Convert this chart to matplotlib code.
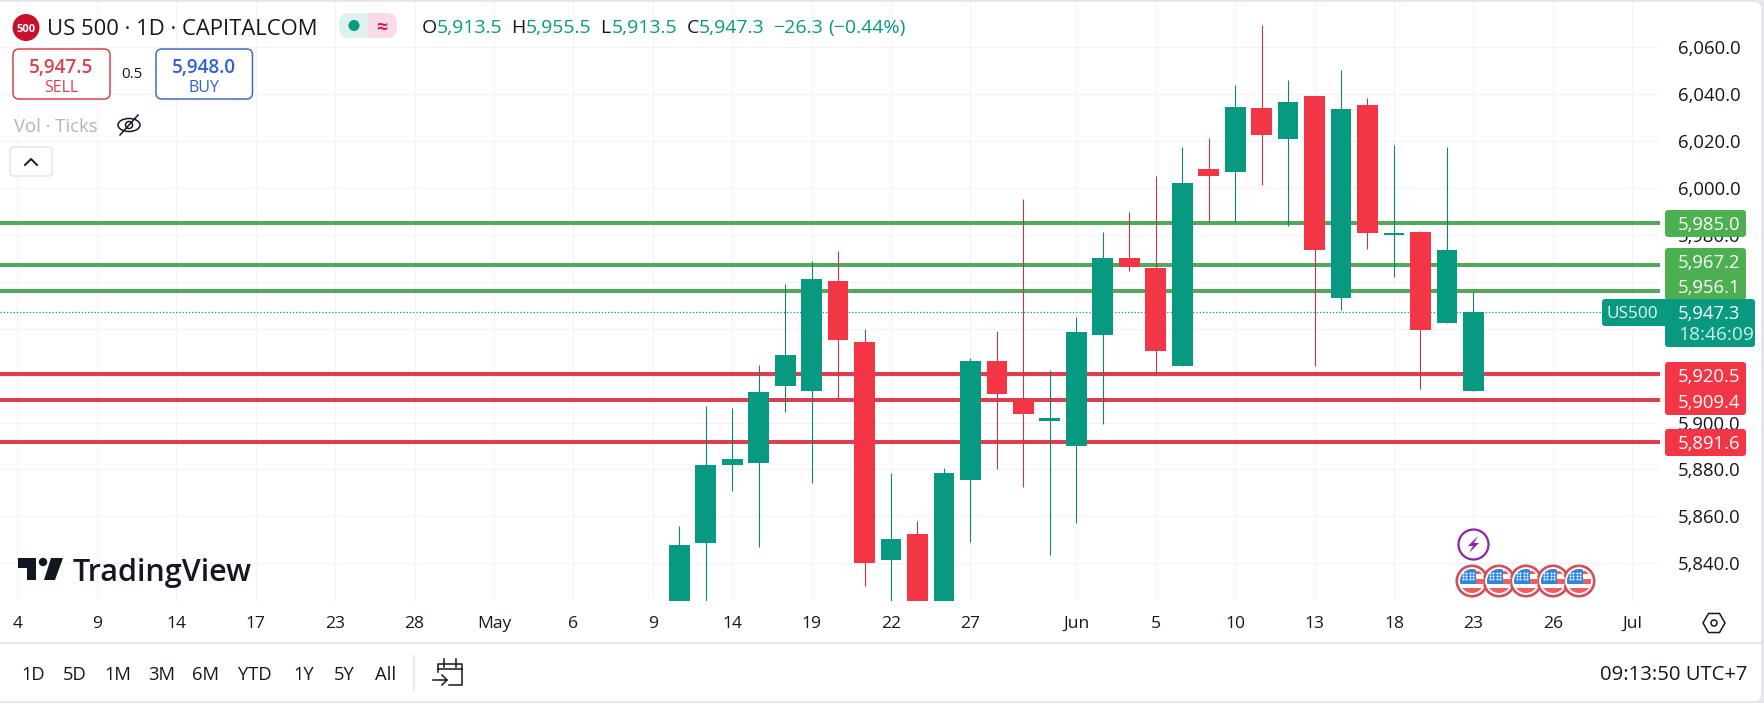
import numpy as np
import matplotlib
matplotlib.use("Agg")
import matplotlib.pyplot as plt
from matplotlib.patches import FancyBboxPatch, Circle, Rectangle, Polygon, RegularPolygon, Ellipse

plt.rcParams['font.family'] = ['Open Sans', 'DejaVu Sans']

# ---------- data ----------
opens = [5820.0, 5848.7, 5882.0, 5882.9, 5915.7, 5913.6, 5960.3, 5934.3, 5841.5, 5852.5, 5820.0,
         5875.6, 5926.2, 5909.6, 5900.8, 5890.1, 5937.4, 5970.1, 5965.9, 5924.2, 6008.1,
         6007.0, 6034.1, 6021.0, 6039.2, 5953.2, 6035.4, 5980.0, 5981.2, 5942.6, 5913.5]
highs = [5855.9, 5907.2, 5906.1, 5924.5, 5959.1, 5968.9, 5973.3, 5939.7, 5878.3, 5858.1, 5880.5,
         5927.6, 5939.1, 5995.3, 5922.4, 5944.9, 5981.1, 5989.9, 6005.1, 6017.6, 6021.4,
         6044.1, 6069.6, 6046.1, 6039.2, 6050.3, 6038.5, 6018.5, 5981.8, 6017.6, 5955.5]
lows = [5820.0, 5820.0, 5870.8, 5847.0, 5904.6, 5874.3, 5909.9, 5830.4, 5820.0, 5820.0, 5820.0,
        5849.0, 5880.2, 5872.6, 5843.5, 5857.3, 5899.5, 5964.7, 5921.0, 5924.0, 5985.6,
        5985.6, 6001.4, 5983.9, 5924.1, 5948.0, 5974.0, 5962.0, 5914.2, 5942.6, 5913.5]
closes = [5847.8, 5881.9, 5884.4, 5913.0, 5928.8, 5961.2, 5935.3, 5840.2, 5850.3, 5820.0, 5878.5,
          5926.2, 5912.3, 5903.8, 5901.8, 5938.5, 5970.1, 5966.4, 5930.6, 6002.1, 6005.2,
          6034.5, 6022.7, 6036.7, 5973.7, 6033.7, 5980.9, 5980.6, 5939.6, 5973.6, 5947.3]

resistance = [5985.0, 5967.2, 5956.1]
support = [5920.5, 5909.4, 5891.6]
last_price = 5947.3
price_ticks = [5840, 5860, 5880, 5900, 5920, 5940, 5960, 5980, 6000, 6020, 6040, 6060]
date_positions = [-25, -22, -19, -16, -13, -10, -7, -4, -1, 2, 5, 8, 11, 15, 18, 21, 24, 27, 30, 33, 36]
date_labels = ['4', '9', '14', '17', '23', '28', 'May', '6', '9', '14', '19', '22', '27',
               'Jun', '5', '10', '13', '18', '23', '26', 'Jul']
ranges = ['1D', '5D', '1M', '3M', '6M', 'YTD', '1Y', '5Y', 'All']

GREEN = '#089981'
RED = '#F23645'
WICK_G = '#14806F'
WICK_R = '#BE3A4A'
LEVEL_G = '#55A85A'
LEVEL_R = '#DB3F50'
TAG_G = '#4CAF50'
INK = '#131722'
W, H = 1765, 703

fig = plt.figure(figsize=(W / 100, H / 100), dpi=100, facecolor='#E6E7EA')

# backdrop
bg = fig.add_axes([0, 0, 1, 1], zorder=0)
bg.set_xlim(0, W); bg.set_ylim(H, 0); bg.axis('off')
bg.add_patch(FancyBboxPatch((-10, 2), W - 4 + 10, H - 4, boxstyle='round,pad=0,rounding_size=7',
                            fc='white', ec='none'))
bg.plot([0, W - 4], [643, 643], color='#E0E3EB', lw=1.2)

# ---------- main chart ----------
PLOT_R, PLOT_T, PLOT_B = 1660, 2, 601
ax = fig.add_axes([0, 1 - PLOT_B / H, PLOT_R / W, (PLOT_B - PLOT_T) / H], zorder=2)
ax.patch.set_alpha(0)
ax.set_xlim(-25.66, 37.05)
ax.set_ylim(5823.9, 6079.3)
for s in ax.spines.values():
    s.set_visible(False)

ax.set_yticks(price_ticks)
ax.set_yticklabels([f'{v:,.1f}' for v in price_ticks])
ax.yaxis.tick_right()
ax.tick_params(axis='y', length=0, pad=13, labelsize=13.3, labelcolor=INK)
ax.set_xticks(date_positions)
ax.set_xticklabels(date_labels)
ax.tick_params(axis='x', length=0, pad=10.5, labelsize=12.6, labelcolor=INK)
ax.grid(True, color='#F1F3F7', lw=0.8)
ax.set_axisbelow(True)

ax.axhline(last_price, color=GREEN, lw=0.9, ls=(0, (1, 1.6)), zorder=1.5)
for v in resistance:
    ax.axhline(v, color=LEVEL_G, lw=2.9, zorder=2)
for v in support:
    ax.axhline(v, color=LEVEL_R, lw=2.9, zorder=2)

x = np.arange(len(opens))
o, h, l, c = map(np.array, (opens, highs, lows, closes))
colors = [GREEN if cc >= oo else RED for oo, cc in zip(o, c)]
wick_colors = [WICK_G if cc >= oo else WICK_R for oo, cc in zip(o, c)]
ax.vlines(x, l, h, colors=wick_colors, lw=0.8, zorder=3)
ax.bar(x, np.maximum(np.abs(c - o), 0.6), bottom=np.minimum(o, c), width=0.785,
       color=colors, lw=0, zorder=4)

# ---------- overlay ----------
ov = fig.add_axes([0, 0, 1, 1], zorder=5)
ov.set_xlim(0, W); ov.set_ylim(H, 0); ov.axis('off')


def box(x0, y0, x1, y1, fc, ec='none', r=3, lw=1.0, z=1):
    ov.add_patch(FancyBboxPatch((x0, y0), x1 - x0, y1 - y0,
                                boxstyle=f'round,pad=0,rounding_size={r}', fc=fc, ec=ec, lw=lw, zorder=z))


def t(px, py, s, size=13.3, color=INK, ha='left', weight='normal', z=3):
    ov.text(px, py, s, fontsize=size, color=color, ha=ha, va='center_baseline', weight=weight, zorder=z)


# price tags
box(1665, 210, 1746, 237, TAG_G)
box(1665, 248, 1746, 300, TAG_G)
box(1665, 299, 1755, 347, GREEN, z=2)
box(1602, 299, 1668, 326, GREEN, z=2)
box(1665, 362, 1746, 415, RED)
box(1665, 429, 1746, 456, RED)
for py, v in zip((223, 260.5, 286), resistance):
    t(1678, py, f'{v:,.1f}', color='white')
for py, v in zip((375, 400.7, 442), support):
    t(1678, py, f'{v:,.1f}', color='white')
t(1678, 311.7, f'{last_price:,.1f}', color='white')
t(1678, 333, '18:46:09', size=13.8, color='#CFECE7')
t(1632.5, 312, 'US500', size=12.4, color='#E6F5F3', ha='center')

# header
ov.add_patch(Circle((26, 27.5), 13.5, fc='#C8102E', ec='none'))
t(26, 27.5, '500', size=8, color='white', ha='center', weight='bold')
t(47, 27, 'US 500 · 1D · CAPITALCOM', size=15.8)
ov.add_patch(FancyBboxPatch((339, 13), 58, 25, boxstyle='round,pad=0,rounding_size=10',
                            fc='#DDF2EF', ec='none'))
ov.add_patch(FancyBboxPatch((368, 13), 29, 25, boxstyle='round,pad=0,rounding_size=10',
                            fc='#FBDCE6', ec='none'))
ov.add_patch(Rectangle((368, 13), 12, 25, fc='#FBDCE6', ec='none'))
ov.add_patch(Circle((354, 25.5), 5.5, fc=GREEN, ec='none'))
t(382, 25, '≈', size=14, color='#D81B60', ha='center', weight='bold')
for px, s, col in [(422, 'O', INK), (437, '5,913.5', GREEN), (511, 'H', INK), (526, '5,955.5', GREEN),
                   (600, 'L', INK), (612, '5,913.5', GREEN), (686.5, 'C', INK), (699, '5,947.3', GREEN),
                   (773, '−26.3', GREEN), (828, '(−0.44%)', GREEN)]:
    t(px, 26, s, size=14, color=col)

# buy / sell
box(13, 49, 110, 99, 'white', ec='#D9414F', r=6, lw=1.1)
box(156, 49, 252.5, 99, 'white', ec='#3F6DB8', r=6, lw=1.1)
t(61, 66, '5,947.5', size=13.6, color='#D9414F', ha='center', weight='semibold')
t(61, 86, 'SELL', size=11.5, color='#D9414F', ha='center')
t(132, 73, '0.5', size=10.8, ha='center')
t(204, 66, '5,948.0', size=13.6, color='#2F62D0', ha='center', weight='semibold')
t(204, 86, 'BUY', size=11.5, color='#2F62D0', ha='center')

# indicator row
t(14, 125, 'Vol · Ticks', size=13.3, color='#B2B5BE')
ov.add_patch(Ellipse((129, 125), 22, 13, fc='none', ec=INK, lw=1.1))
ov.add_patch(Circle((129, 125), 3.5, fc='none', ec=INK, lw=1.1))
ov.plot([120, 138], [135, 115], color=INK, lw=1.1)
box(10, 147, 52, 176, 'white', ec='#E0E3EB', r=3, lw=1)
ov.plot([25, 31, 37], [165, 159, 165], color=INK, lw=1.4)

# logo
ov.add_patch(Polygon([(18, 558), (36, 558), (36, 580), (27, 580), (27, 568), (18, 568)], fc=INK, ec='none'))
ov.add_patch(Circle((43, 562), 4.2, fc=INK, ec='none'))
ov.add_patch(Polygon([(51, 558), (63, 558), (55, 580), (44, 580)], fc=INK, ec='none'))
t(73, 569, 'TradingView', size=22, weight='semibold')

# range bar
for px, s in zip((33.5, 75, 118, 162, 206, 255, 303.6, 344, 386), ranges):
    t(px, 673, s, size=13.2, ha='center')
ov.plot([414, 414], [656, 690], color='#E0E3EB', lw=1.2)
ov.plot([438, 438, 462, 462, 449], [672, 664, 664, 685, 685], color=INK, lw=1.1)
ov.plot([438, 462], [669, 669], color=INK, lw=1.1)
ov.plot([444, 444], [659, 667], color=INK, lw=1.1)
ov.plot([456, 456], [659, 667], color=INK, lw=1.1)
ov.plot([433, 447], [680, 680], color=INK, lw=1.1)
ov.plot([442, 447, 442], [675, 680, 685], color=INK, lw=1.1)
t(1747, 673, '09:13:50 UTC+7', size=14.6, ha='right')

# settings hexagon
ov.add_patch(RegularPolygon((1714, 623), 6, radius=11, orientation=np.pi / 6, fc='none', ec=INK, lw=1.1))
ov.add_patch(Circle((1714, 623), 3, fc='none', ec=INK, lw=1.1))

# events
ov.add_patch(Circle((1473.5, 544.5), 15, fc='white', ec='#8E24AA', lw=1.6))
ov.add_patch(Polygon([(1478, 536), (1468, 546), (1473, 546), (1469, 553), (1479, 543), (1474, 543)],
                     fc='#8E24AA', ec='none'))
for cx in (1472, 1499, 1526, 1553, 1579):
    cy = 581
    ov.add_patch(Circle((cx, cy), 15.2, fc='white', ec='#D24F58', lw=1.9, zorder=2))
    inner = Circle((cx, cy), 12, fc='white', ec='none', zorder=2.05)
    ov.add_patch(inner)
    parts = [Rectangle((cx - 13, cy + 7), 26, 7, fc='#E9605F', ec='none', zorder=2.1),
             Rectangle((cx, cy - 2), 13, 5, fc='#E9605F', ec='none', zorder=2.1),
             Rectangle((cx, cy - 10), 13, 3, fc='#E9605F', ec='none', zorder=2.1),
             Rectangle((cx - 12, cy - 12), 16, 15, fc='#2F86DC', ec='none', zorder=2.2)]
    for p in parts:
        ov.add_patch(p)
        p.set_clip_path(inner)
    dots = [(cx - 9 + 3.4 * i, cy - 8.5 + 3.4 * j) for i in range(4) for j in range(3)]
    ov.scatter(*zip(*dots), s=2.2, c='white', lw=0, zorder=2.3)

fig.savefig('out.png', dpi=100, facecolor=fig.get_facecolor())
